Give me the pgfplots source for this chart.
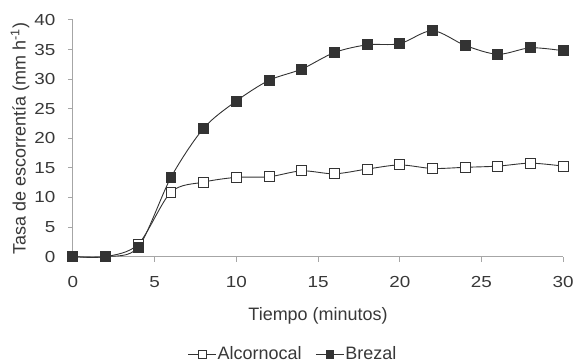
\documentclass[border=0pt]{standalone}
\usepackage{pgfplots}
\pgfplotsset{compat=1.18}
\usepackage{fontspec}
\setmainfont{Liberation Sans}
\newfontfamily\tickfont[FakeStretch=1.18]{Liberation Sans}
\definecolor{axgray}{HTML}{A6A6A6}
\definecolor{txt}{HTML}{383838}
\definecolor{ln}{HTML}{333333}
\newcommand{\lf}{\fontsize{18}{20}\selectfont}
\begin{document}
\begin{tikzpicture}
\begin{axis}[
  scale only axis, width=491pt, height=237pt,
  xmin=0, xmax=30, ymin=0, ymax=40,
  axis lines*=left,
  axis line style={axgray, line width=1pt},
  xtick={0,5,...,30}, ytick={0,5,...,40},
  tick style={axgray, line width=1pt},
  tick align=outside, major tick length=5pt,
  clip=false,
  /pgf/number format/assume math mode=true,
  ticklabel style={font=\tickfont\fontsize{16}{18}\selectfont, text=txt},
  xticklabel style={yshift=-11pt},
  yticklabel style={xshift=-9pt},
  label style={font=\lf, text=txt},
  xlabel={Tiempo (minutos)},
  ylabel={Tasa de escorrentía (mm h\textsuperscript{-1})},
  xlabel style={at={(axis description cs:0.5,0)}, anchor=center, yshift=-59pt},
  ylabel style={at={(axis description cs:0,0.5)}, anchor=center, yshift=53pt},
  legend style={at={(0.448,-0.412)}, anchor=center, draw=none, legend columns=2,
    text=txt, inner sep=0pt,
    nodes={inner xsep=1pt},
    /tikz/every odd column/.append style={column sep=0pt},
    /tikz/every even column/.append style={column sep=13pt}},
  legend cell align=left,
  legend image code/.code={
    \draw[#1, mark size=4pt, mark repeat=2, mark phase=2] plot coordinates {(0pt,0pt) (14pt,0pt) (28pt,0pt)};},
]
\addplot[ln, line width=0.9pt, smooth, tension=0.5, mark=square*, mark size=5pt,
  mark options={fill=white, draw=ln, line width=0.9pt}]
  coordinates {(0,0) (2,0) (4,2.1) (6,10.9) (8,12.6) (10,13.4) (12,13.5) (14,14.5)
   (16,14.0) (18,14.8) (20,15.5) (22,14.9) (24,15.1) (26,15.3) (28,15.8) (30,15.3)};
\addlegendentry{\lf Alcornocal}
\addplot[ln, line width=0.9pt, smooth, tension=0.5, mark=square*, mark size=5pt,
  mark options={fill=ln, draw=ln, line width=0.9pt}]
  coordinates {(0,0) (2,0) (4,1.6) (6,13.4) (8,21.7) (10,26.3) (12,29.8) (14,31.7)
   (16,34.5) (18,35.8) (20,36.0) (22,38.2) (24,35.7) (26,34.2) (28,35.3) (30,34.8)};
\addlegendentry{\lf Brezal}
\path (rel axis cs:0,0) ++(-73pt,-105pt);
\path (rel axis cs:1,1) ++(13pt,20pt);
\end{axis}
\end{tikzpicture}
\end{document}
